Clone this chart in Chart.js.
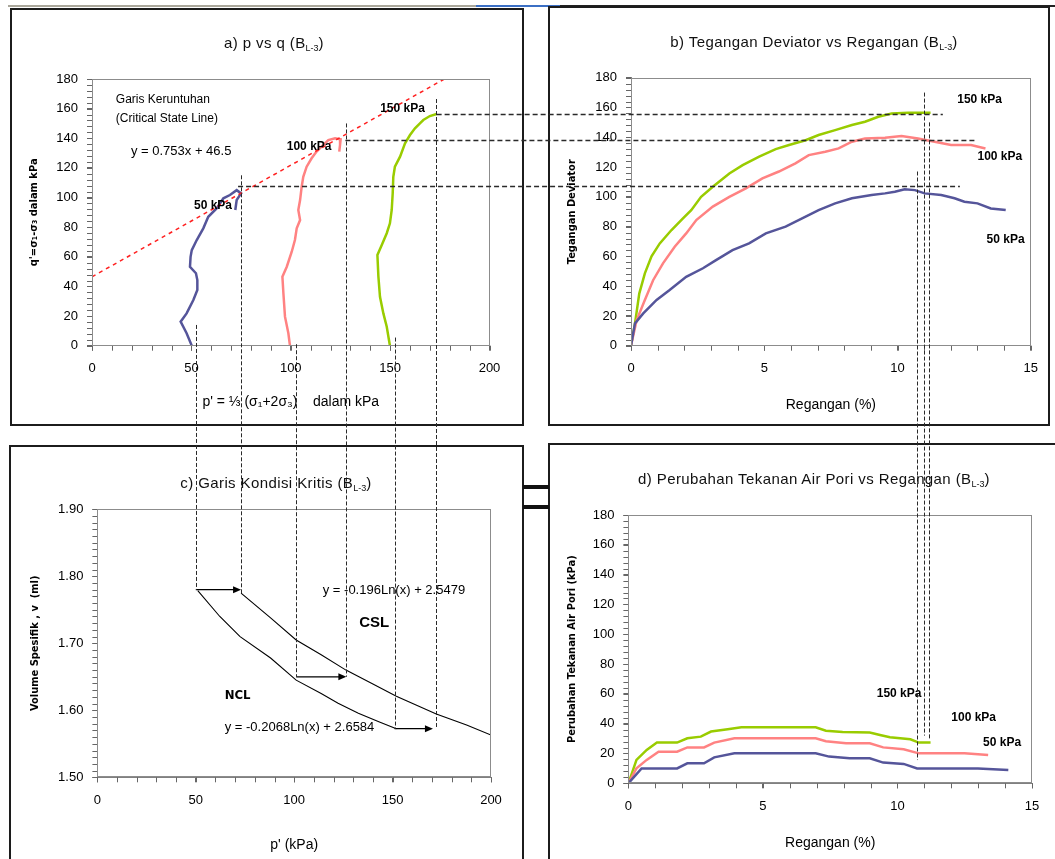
<!DOCTYPE html>
<html>
<head>
<meta charset="utf-8">
<script src="https://cdn.jsdelivr.net/npm/chart.js@4.4.1/dist/chart.umd.min.js"></script>
<style>
  html, body { margin:0; padding:0; background:#fff; overflow:hidden; }
  #page { position:relative; width:1055px; height:859px; overflow:hidden; font-family:'Liberation Sans', Arial, sans-serif; }
  .box { position:absolute; border:2px solid #1c1c1c; box-sizing:border-box; }
  .strip { position:absolute; }
  canvas { position:absolute; }
  .ttl { position:absolute; font-size:15px; letter-spacing:0.4px; color:#111; white-space:nowrap; transform:translate(-50%,-50%); }
  .ttl sub { font-size:9px; vertical-align:-3px; letter-spacing:0; }
</style>
</head>
<body>
<div id="page">
  <div class="strip" style="left:8px;top:5px;width:468px;height:2px;background:#aaa79b"></div>
  <div class="strip" style="left:476px;top:5px;width:84px;height:2px;background:#3b6fc4"></div>
  <div class="strip" style="left:560px;top:5px;width:495px;height:2px;background:#222"></div>

  <div class="box" style="left:10px;top:8px;width:514px;height:418px"></div>
  <div class="box" style="left:548px;top:6px;width:502px;height:420px"></div>
  <div class="box" style="left:9px;top:445px;width:515px;height:430px"></div>
  <div class="box" style="left:548px;top:443px;width:520px;height:430px"></div>
  <div class="strip" style="left:523px;top:485px;width:26px;height:4px;background:#111"></div>
  <div class="strip" style="left:523px;top:505px;width:26px;height:4px;background:#111"></div>

  <canvas id="chartA" width="510" height="414" style="left:12px;top:10px"></canvas>
  <canvas id="chartB" width="498" height="416" style="left:550px;top:8px"></canvas>
  <canvas id="chartC" width="511" height="412" style="left:11px;top:447px"></canvas>
  <canvas id="chartD" width="505" height="414" style="left:550px;top:445px"></canvas>
  <canvas id="guides" width="1055" height="859" style="left:0;top:0"></canvas>

  <div class="ttl" style="left:274px;top:43px">a) p vs q (B<sub>L-3</sub>)</div>
  <div class="ttl" style="left:814px;top:42px">b) Tegangan Deviator vs Regangan (B<sub>L-3</sub>)</div>
  <div class="ttl" style="left:276px;top:483px">c) Garis Kondisi Kritis (B<sub>L-3</sub>)</div>
  <div class="ttl" style="left:814px;top:479px">d) Perubahan Tekanan Air Pori vs Regangan (B<sub>L-3</sub>)</div>
</div>
<script>
// ---------- a) p' vs q ----------
var pA50  = [50.2,47.6,44.6,47.6,51,53,53,52.3,49.3,49.6,50.2,52.7,56,58.5,62.7,66.1,69.4,72.8,75,72.8,72.1];
var qA50  = [0,8.4,16.2,21.8,30.8,37.6,44.3,48.9,53.3,60,64.5,71.3,79.2,87,92.7,99.5,101.7,105,102.8,98.3,91.6];
var pA100 = [99.6,98.8,97.1,96.3,95.8,98,100.5,102.1,103,104.7,103.8,104.7,105.5,106.3,108,110.5,113,116.4,118.9,122.3,125.1,124.8,124.4];
var qA100 = [0,8.4,19.6,35.4,46.6,53.3,63.4,71.3,79.2,84.8,91.6,98.3,107.3,114,120.8,126.5,131,135.5,138.8,140,139.3,135.5,131];
var pA150 = [149.9,148.3,146.6,144.9,144.1,143.6,145.8,148.3,149.9,150.8,151.3,151.6,152.4,155,157.5,160,162.5,165,166.7,170,173.4];
var qA150 = [0,12.8,21.8,33,46.6,61.2,68,75.9,82.6,91.6,102.9,114,120.8,127.6,136.6,142.2,146.7,150.1,152.3,155,156.4];
var cslLineP = [0, 177.3];
var cslLineQ = [46.5, 180];
var pTicks = [0, 50, 100, 150, 200];
var qTicks = [0, 20, 40, 60, 80, 100, 120, 140, 160, 180];

// ---------- b) deviator stress vs strain ----------
var eB150 = [0,0.15,0.31,0.52,0.77,1.08,1.52,1.95,2.26,2.63,3.07,3.69,4.19,4.81,5.43,5.93,6.55,7.04,7.66,8.29,8.78,9.28,9.78,10.4,11.24];
var dB150 = [0,15,35,48.6,60,68.7,77.7,85.5,91,100,106.8,115.7,121.3,127,132,134.8,138,141.5,144.8,148.2,150.4,153.8,156,156.5,156.5];
var eB100 = [0,0.21,0.52,0.83,1.2,1.64,2.07,2.45,3.07,3.69,4.31,4.93,5.55,6.17,6.67,7.29,7.79,8.29,8.78,9.53,10.15,10.77,11.39,12.01,12.76,13.3];
var dB100 = [0,17,30.7,44,55.3,66.5,75.4,84.4,93.4,100,105.7,112.4,117,122.5,128,130.3,132.5,137,139.2,139.7,140.8,139.2,137,134.8,134.8,132.5];
var eB50  = [0,0.15,0.46,0.96,1.45,2.07,2.7,3.19,3.81,4.43,5.06,5.8,6.42,7.04,7.66,8.29,9.03,9.53,9.9,10.27,10.65,11.02,11.64,12.14,12.51,13.0,13.5,14.06];
var dB50  = [0,15,21.7,30.7,37.4,46.3,52,57.5,64.2,68.7,75.4,80,85.5,91,95.6,99,101.2,102.3,103.4,105,104.5,102.3,101.2,99,96.7,95.6,92.2,91.1];
var strainTicks = [0, 5, 10, 15];

// ---------- c) critical state line ----------
var cslP = [73,88,101,113.7,126.3,139.5,151.9,172.2,187.6,200];
var cslV = [1.775,1.738,1.705,1.683,1.66,1.64,1.621,1.5945,1.578,1.563];
var nclP = [51,62.2,72.5,88,101,113.7,122.3,132.6,143,151.9];
var nclV = [1.7786,1.74,1.71,1.678,1.645,1.625,1.6104,1.5955,1.583,1.5726];
var arrowFromP = [50, 101, 151];
var arrowToP   = [73, 126.5, 170.5];
var arrowV     = [1.78, 1.65, 1.5726];
var vTicks = [1.5, 1.6, 1.7, 1.8, 1.9];

// ---------- d) pore pressure change vs strain ----------
var eD150 = [0,0.3,0.68,1.06,1.81,2.19,2.69,3.07,3.69,4.2,6.96,7.34,7.96,8.97,9.35,9.72,10.48,10.79,11.23];
var uD150 = [0,15.7,22.4,27.3,27.3,30.2,31.3,34.7,36.2,37.6,37.6,35.3,34.4,34,32.4,30.9,29.5,27.3,27.3];
var eD100 = [0,0.3,0.68,1.12,1.81,2.19,2.81,3.19,3.94,6.96,7.34,8.09,8.97,9.47,10.23,10.79,12.49,13.37];
var uD100 = [0,10,15.7,21.2,21.2,24.1,24.1,27.3,30.2,30.2,28.2,26.8,26.8,24.1,22.8,20.1,20.1,19];
var eD50  = [0,0.49,1.81,2.19,2.81,3.19,3.94,6.96,7.46,8.22,8.97,9.47,10.23,10.73,12.99,14.12];
var uD50  = [0,10,10,13.4,13.4,17.4,20.1,20.1,17.9,16.8,16.8,13.9,13,10,10,8.9];

// ---------- guide lines between panels ----------
var guideQ = [155.5, 138, 107];            // a -> b horizontal
var guideStartP = [173.4, 127.5, 73.5];
var guideEndStrain = [11.7, 12.93, 12.34];
var dropP = [50, 73, 101, 126.3, 151, 172]; // a -> c vertical
var dropTopQ = [14, 115, 1, 150, 5.5, 166.5];
var dropEndV = [1.78, 1.775, 1.65, 1.65, 1.5726, 1.5726];
var failStrain = [10.72, 10.98, 11.2];      // b -> d vertical
var failTopQ = [117, 170, 150];
var failEndU = [15.6, 32, 29];

var BLUE = '#55559a', PINK = '#ff8282', GREEN = '#99cc00';
var FONT = "'Liberation Sans', Arial, sans-serif";
var NARROW = "'Liberation Sans Narrow', 'DejaVu Sans Condensed', 'Liberation Sans', sans-serif";

function pts(xs, ys) { return xs.map(function (x, i) { return {x: x, y: ys[i]}; }); }
function series(xs, ys, color, w, dash) {
  return {data: pts(xs, ys), showLine: true, borderColor: color, borderWidth: w || 2.5,
          borderDash: dash || [], pointRadius: 0, fill: false, tension: 0};
}

var framePlugin = {
  id: 'frame',
  afterDraw: function (chart, args, o) {
    var ctx = chart.ctx, a = chart.chartArea, xs = chart.scales.x, ys = chart.scales.y, i, n, px;
    ctx.save();
    ctx.strokeStyle = '#666';
    ctx.lineWidth = 1;
    ctx.beginPath();
    n = Math.round((xs.max - xs.min) / o.minorX);
    for (i = 0; i <= n; i++) {
      px = Math.round(xs.getPixelForValue(xs.min + i * o.minorX)) + 0.5;
      ctx.moveTo(px, a.bottom); ctx.lineTo(px, a.bottom + 5);
    }
    n = Math.round((ys.max - ys.min) / o.minorY);
    for (i = 0; i <= n; i++) {
      px = Math.round(ys.getPixelForValue(ys.min + i * o.minorY)) + 0.5;
      ctx.moveTo(a.left - 5, px); ctx.lineTo(a.left, px);
    }
    ctx.stroke();
    ctx.strokeStyle = '#8c8c8c';
    ctx.strokeRect(Math.round(a.left) + 0.5, Math.round(a.top) + 0.5, Math.round(a.width) - 1, Math.round(a.height) - 1);

    (o.notes || []).forEach(function (t) {
      ctx.font = t.font;
      ctx.fillStyle = '#000';
      ctx.textAlign = 'left';
      ctx.textBaseline = 'middle';
      ctx.fillText(t.text, xs.getPixelForValue(t.x), ys.getPixelForValue(t.y));
    });

    if (o.arrows) {
      ctx.strokeStyle = '#000';
      ctx.fillStyle = '#000';
      ctx.lineWidth = 1.3;
      o.arrows.from.forEach(function (p0, k) {
        var x0 = xs.getPixelForValue(p0), x1 = xs.getPixelForValue(o.arrows.to[k]), y = ys.getPixelForValue(o.arrows.v[k]);
        ctx.beginPath(); ctx.moveTo(x0, y); ctx.lineTo(x1 - 5, y); ctx.stroke();
        ctx.beginPath(); ctx.moveTo(x1, y); ctx.lineTo(x1 - 8, y - 3.5); ctx.lineTo(x1 - 8, y + 3.5); ctx.closePath(); ctx.fill();
      });
    }
    ctx.restore();
  }
};

function axis(ticks, min, max, title, titleFont, size, key, pad, fmt) {
  return {
    type: 'linear', min: min, max: max,
    afterBuildTicks: function (s) { s.ticks = ticks.map(function (v) { return {value: v}; }); },
    afterFit: function (s) { if (key === 'w') s.width = size; else s.height = size; },
    ticks: {color: '#000', font: {family: FONT, size: 13}, padding: pad, autoSkip: false, maxRotation: 0,
            callback: fmt || function (v) { return String(v); }},
    grid: {drawOnChartArea: false, tickLength: 5, color: '#666'},
    border: {display: true, color: '#808080'},
    title: {display: true, text: title, color: '#000', font: titleFont, padding: {top: 4, bottom: 4}}
  };
}

function panel(id, datasets, xAxis, yAxis, pad, frame) {
  return new Chart(document.getElementById(id), {
    type: 'scatter',
    data: {datasets: datasets},
    options: {
      responsive: false, animation: false, devicePixelRatio: 1,
      layout: {padding: pad},
      plugins: {legend: {display: false}, tooltip: {enabled: false}, frame: frame},
      scales: {x: xAxis, y: yAxis}
    },
    plugins: [framePlugin]
  });
}

var yTitleFont = {family: NARROW, size: 11, weight: 'bold'};
var xTitleFont = {family: FONT, size: 14};
var noteBold = 'bold 12px ' + FONT;
var note = '12px ' + FONT;

var chartA = panel('chartA', [
    series(cslLineP, cslLineQ, '#ff2020', 1.5, [4, 4]),
    series(pA50, qA50, BLUE), series(pA100, qA100, PINK), series(pA150, qA150, GREEN)
  ],
  axis(pTicks, 0, 200, "p' = \u2153 (\u03c3\u2081+2\u03c3\u2083)    dalam kPa", xTitleFont, 68.7, 'h', 10),
  axis(qTicks, 0, 180, "q'=\u03c3\u2081-\u03c3\u2083 dalam kPa", yTitleFont, 68, 'w', 9),
  {left: 12, right: 32.5, top: 69, bottom: 9.6},
  {minorX: 10, minorY: 4, notes: [
    {text: 'Garis Keruntuhan', x: 12, y: 165.8, font: note},
    {text: '(Critical State Line)', x: 12, y: 153.5, font: note},
    {text: 'y = 0.753x + 46.5', x: 19.6, y: 131, font: '13px ' + FONT},
    {text: '150 kPa', x: 145, y: 160.2, font: noteBold},
    {text: '100 kPa', x: 98, y: 134.3, font: noteBold},
    {text: '50 kPa', x: 51.3, y: 94.5, font: noteBold}
  ]});

var chartB = panel('chartB', [
    series(eB50, dB50, BLUE), series(eB100, dB100, PINK), series(eB150, dB150, GREEN)
  ],
  axis(strainTicks, 0, 15, 'Regangan (%)', xTitleFont, 71.7, 'h', 10),
  axis(qTicks, 0, 180, 'Tegangan Deviator', yTitleFont, 69.9, 'w', 9),
  {left: 11.1, right: 14.5, top: 69.7, bottom: 6.6},
  {minorX: 1, minorY: 4, notes: [
    {text: '150 kPa', x: 12.24, y: 165, font: noteBold},
    {text: '100 kPa', x: 13.0, y: 127, font: noteBold},
    {text: '50 kPa', x: 13.34, y: 71, font: noteBold}
  ]});

var chartC = panel('chartC', [
    series(cslP, cslV, '#000', 1.1), series(nclP, nclV, '#000', 1.1)
  ],
  axis(pTicks, 0, 200, "p' (kPa)", xTitleFont, 80.1, 'h', 10),
  axis(vTicks, 1.5, 1.9, 'Volume Spesifik , v  (ml)', yTitleFont, 73.1, 'w', 9, function (v) { return v.toFixed(2); }),
  {left: 13.3, right: 31, top: 62.3, bottom: 1.6},
  {minorX: 10, minorY: 0.01, arrows: {from: arrowFromP, to: arrowToP, v: arrowV}, notes: [
    {text: 'y = -0.196Ln(x) + 2.5479', x: 114.5, y: 1.7785, font: '13px ' + FONT},
    {text: 'CSL', x: 133, y: 1.7307, font: 'bold 15px ' + FONT},
    {text: 'NCL', x: 64.7, y: 1.6213, font: 'bold 13px ' + NARROW},
    {text: 'y = -0.2068Ln(x) + 2.6584', x: 64.7, y: 1.5746, font: '13px ' + FONT}
  ]});

var chartD = panel('chartD', [
    series(eD50, uD50, BLUE), series(eD100, uD100, PINK), series(eD150, uD150, GREEN)
  ],
  axis(strainTicks, 0, 15, 'Regangan (%)', xTitleFont, 72.4, 'h', 10),
  axis(qTicks, 0, 180, 'Perubahan Tekanan Air Pori (kPa)', yTitleFont, 67.3, 'w', 9),
  {left: 11.1, right: 23, top: 70, bottom: 3.3},
  {minorX: 1, minorY: 4, notes: [
    {text: '150 kPa', x: 9.23, y: 60.4, font: noteBold},
    {text: '100 kPa', x: 12.0, y: 43.7, font: noteBold},
    {text: '50 kPa', x: 13.18, y: 27.5, font: noteBold}
  ]});

// guide lines drawn across panels, positioned through each chart's scales
function ax(ch, v) { return ch.canvas.offsetLeft + ch.scales.x.getPixelForValue(v); }
function ay(ch, v) { return ch.canvas.offsetTop + ch.scales.y.getPixelForValue(v); }
var g = document.getElementById('guides').getContext('2d');
g.lineWidth = 1.4;
g.strokeStyle = '#2a2a2a';
g.setLineDash([5, 3]);
guideQ.forEach(function (q, i) {
  var y = Math.round(ay(chartB, q)) + 0.5;
  g.beginPath(); g.moveTo(ax(chartA, guideStartP[i]), y); g.lineTo(ax(chartB, guideEndStrain[i]), y); g.stroke();
});
g.setLineDash([4, 2]);
g.lineWidth = 1;
dropP.forEach(function (p, i) {
  var x = Math.round(ax(chartC, p)) + 0.5;
  g.beginPath(); g.moveTo(x, ay(chartA, dropTopQ[i])); g.lineTo(x, ay(chartC, dropEndV[i])); g.stroke();
});
failStrain.forEach(function (e, i) {
  var x = Math.round(ax(chartB, e)) + 0.5;
  g.beginPath(); g.moveTo(x, ay(chartB, failTopQ[i])); g.lineTo(x, ay(chartD, failEndU[i])); g.stroke();
});
</script>
</body>
</html>
